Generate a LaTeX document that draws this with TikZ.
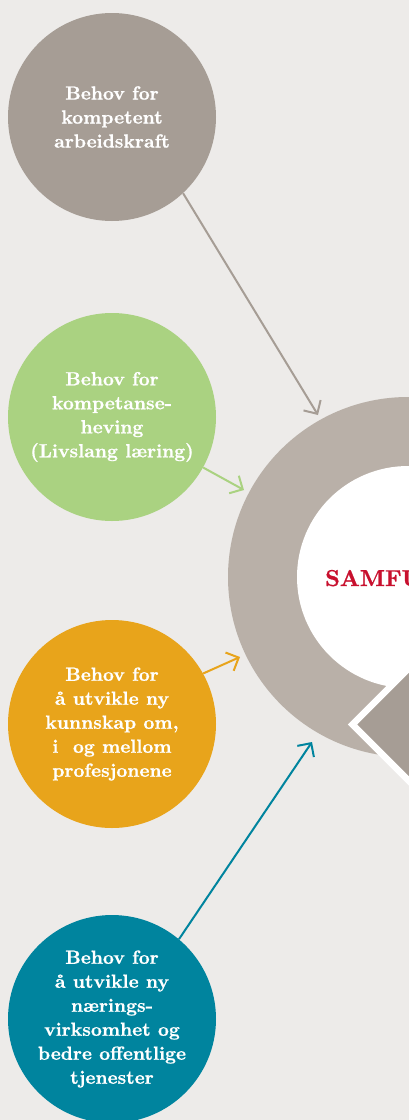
\documentclass[tikz,border=0pt]{standalone}
\usepackage{fontspec}
\newfontfamily\needfont{lmroman10-bold}[Extension=.otf, FakeBold=0.8]
\usetikzlibrary{arrows.meta}
\definecolor{bg}{HTML}{EDEBE9}
\definecolor{cgray}{HTML}{A69D95}
\definecolor{cgreen}{HTML}{AAD281}
\definecolor{corange}{HTML}{E8A41B}
\definecolor{cteal}{HTML}{00849E}
\definecolor{cring}{HTML}{B9B0A8}
\definecolor{cred}{HTML}{C8102E}
\begin{document}
\begin{tikzpicture}[x=1pt,y=-1pt,
  need/.style={circle, minimum size=208pt, inner sep=0pt, text=white, align=center,
    font=\fontsize{19}{24}\needfont},
  link/.style={line width=2pt, -{Straight Barb[length=10pt,width=20pt]}}]
\useasboundingbox (0,0) rectangle (409,1120);
\fill[bg] (0,0) rectangle (409,1120);
\node[circle, minimum size=360pt, inner sep=0pt, fill=cring] (ring) at (408,577) {};
\node[circle, minimum size=222pt, inner sep=0pt, fill=white] (core) at (408,577) {};
\draw[fill=cgray, draw=white, line width=6.5pt, miter limit=10] (352.5,724.5) -- ++(100,-100) -- ++(100,100) -- ++(-100,100) -- cycle;
\node[anchor=base west, inner sep=0pt, text=cred, font=\fontsize{23}{23}\needfont] (title) at (325,586) {SAMFU};
\node[need, fill=cgray] (c1) at (112,117) {Behov for\\kompetent\\arbeidskraft};
\node[need, fill=cgreen] (c2) at (112,417) {Behov for\\kompetanse-\\heving\\(Livslang læring)};
\node[need, fill=corange] (c3) at (112,724) {Behov for\\å utvikle ny\\kunnskap om,\\i~ og mellom\\profesjonene};
\node[need, fill=cteal] (c4) at (112,1019) {Behov for\\å utvikle ny\\nærings-\\virksomhet og\\bedre offentlige\\tjenester};
\coordinate (t1) at (318,415);
\coordinate (t2) at (244,490);
\coordinate (t3) at (240,657);
\coordinate (t4) at (312,742);
\draw[link, cgray] (c1.-47) -- (t1);
\draw[link, cgreen] (c2.-29) -- (t2);
\draw[link, corange] (c3.29) -- (t3);
\draw[link, cteal] (c4.50) -- (t4);
\end{tikzpicture}
\end{document}
